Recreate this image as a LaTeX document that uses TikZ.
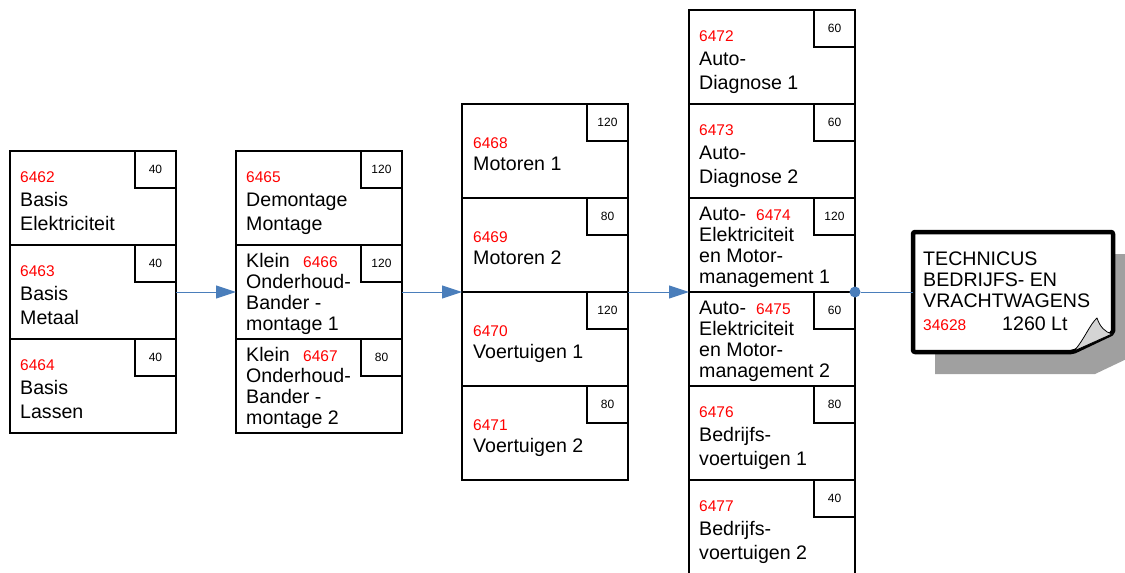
\documentclass[tikz,border=0pt]{standalone}
\usepackage{fontspec}
\setmainfont{Liberation Sans}
\usetikzlibrary{arrows.meta}
\definecolor{connblue}{HTML}{4A7EBB}
\definecolor{shadowgray}{HTML}{A0A0A0}
\definecolor{foldgray}{HTML}{D4D4D4}
\tikzset{
 cell/.style={draw=black, line width=1.6pt, fill=white, minimum width=166pt, minimum height=94pt, inner sep=0pt, outer sep=0pt, anchor=north west},
 hrsbox/.style={draw=black, line width=1.6pt, minimum width=41pt, minimum height=37pt, inner sep=0pt, outer sep=0pt, anchor=north east, font=\fontsize{12}{14}\selectfont},
 txt/.style={anchor=base west, inner sep=0pt, font=\fontsize{19.6}{22}\selectfont},
 num/.style={anchor=base west, inner sep=0pt, text=red, font=\fontsize{15.5}{18}\selectfont},
 conn/.style={draw=connblue, line width=1pt},
 arr/.style={conn, -{Triangle[length=20pt,width=13pt]}},
}
% box with number line and two text lines
\newcommand\cellA[7]{%
 \node[cell] (#1) at (#2,#3) {};
 \node[hrsbox] (#1h) at (#1.north east) {#5};
 \node[num] (#1n) at ({#2+10},{#3+31.5}) {#4};
 \node[txt] (#1a) at ({#2+10},{#3+55}) {#6};
 \node[txt] (#1b) at ({#2+10},{#3+79}) {#7};
}
% box with number inline on the first line and four text lines
\newcommand\cellB[9]{%
 \node[cell] (#1) at (#2,#3) {};
 \node[hrsbox] (#1h) at (#1.north east) {#5};
 \node[txt] (#1a) at ({#2+10},{#3+22.5}) {#6};
 \node[num] (#1n) at ({#2+67},{#3+22.5}) {#4};
 \node[txt] (#1b) at ({#2+10},{#3+43.5}) {#7};
 \node[txt] (#1c) at ({#2+10},{#3+64.3}) {#8};
 \node[txt] (#1d) at ({#2+10},{#3+85}) {#9};
}
% box with number and one text line
\newcommand\cellC[6]{%
 \node[cell] (#1) at (#2,#3) {};
 \node[hrsbox] (#1h) at (#1.north east) {#5};
 \node[num] (#1n) at ({#2+11},{#3+44}) {#4};
 \node[txt] (#1a) at ({#2+11},{#3+66}) {#6};
}
\begin{document}
\begin{tikzpicture}[x=1pt,y=-1pt]
\clip (0,0) rectangle (1125,573);
\fill[white] (0,0) rectangle (1125,573);
% column 1
\cellA{b6462}{10}{151}{6462}{40}{Basis}{Elektriciteit}
\cellA{b6463}{10}{245}{6463}{40}{Basis}{Metaal}
\cellA{b6464}{10}{339}{6464}{40}{Basis}{Lassen}
% column 2
\cellA{b6465}{236}{151}{6465}{120}{Demontage}{Montage}
\cellB{b6466}{236}{245}{6466}{120}{Klein}{Onderhoud-}{Bander -}{montage 1}
\cellB{b6467}{236}{339}{6467}{80}{Klein}{Onderhoud-}{Bander -}{montage 2}
% column 3
\cellC{b6468}{462}{104}{6468}{120}{Motoren 1}
\cellC{b6469}{462}{198}{6469}{80}{Motoren 2}
\cellC{b6470}{462}{292}{6470}{120}{Voertuigen 1}
\cellC{b6471}{462}{386}{6471}{80}{Voertuigen 2}
% column 4
\cellA{b6472}{689}{10}{6472}{60}{Auto-}{Diagnose 1}
\cellA{b6473}{689}{104}{6473}{60}{Auto-}{Diagnose 2}
\cellB{b6474}{689}{198}{6474}{120}{Auto-}{Elektriciteit}{en Motor-}{management 1}
\cellB{b6475}{689}{292}{6475}{60}{Auto-}{Elektriciteit}{en Motor-}{management 2}
\cellA{b6476}{689}{386}{6476}{80}{Bedrijfs-}{voertuigen 1}
\cellA{b6477}{689}{480}{6477}{40}{Bedrijfs-}{voertuigen 2}
% note with shadow
\fill[shadowgray] (935,254) -- (1135,254) -- (1135,355) -- (1095,374) -- (935,374) -- cycle;
\node[minimum width=200pt, minimum height=120pt, inner sep=0pt, outer sep=0pt] (note) at (1013,292) {};
\draw[fill=white, line width=4.5pt, line join=round, rounded corners=2pt]
  (note.north west) -- (note.north east) -- (1113,333) -- (1073,352) -- (note.south west) -- cycle;
\draw[fill=foldgray, line width=0.8pt, line join=round]
  (1074,351) .. controls (1084,340) and (1090,324) .. (1097,318)
  .. controls (1100,327) and (1105,332) .. (1112,334) -- cycle;
\node[txt] (nt1) at (923,265) {TECHNICUS};
\node[txt] (nt2) at (923,286) {BEDRIJFS- EN};
\node[txt] (nt3) at (923,307) {VRACHTWAGENS};
\node[num] (ntn) at (923,330) {34628};
\node[txt] (nt4) at (1002,330) {1260 Lt};
% connectors
\draw[arr] (b6463.east) -- (b6466.west);
\draw[arr] (b6466.east) -- (b6469.south west);
\draw[arr] (b6469.south east) -- (b6474.south west);
\node[circle, fill=connblue, minimum size=11pt, inner sep=0pt] (dot) at (b6474.south east) {};
\draw[conn] (dot) -- (note.west);
\end{tikzpicture}
\end{document}
